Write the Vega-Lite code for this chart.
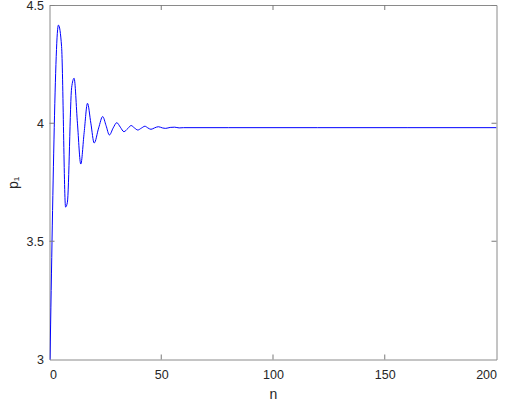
{
  "$schema": "https://vega.github.io/schema/vega-lite/v6.json",
  "width": 447,
  "height": 354.5,
  "autosize": {"type": "none"},
  "padding": {"left": 49.5, "top": 5, "right": 13.5, "bottom": 43.5},
  "background": "white",
  "config": {
    "view": {"stroke": null},
    "font": "Liberation Sans",
    "axis": {
      "domainColor": "#8a8a8a",
      "domainWidth": 1,
      "grid": false,
      "labelFont": "Liberation Sans",
      "labelFontSize": 12.5,
      "labelColor": "#262626",
      "titleFont": "Liberation Sans",
      "titleFontSize": 14,
      "titleFontWeight": "normal",
      "titleColor": "#262626"
    }
  },
  "datasets": {
    "curve": [
      {"n": 0, "p": 2.86},
      {"n": 4, "p": 4.415},
      {"n": 5.4, "p": 4.325},
      {"n": 7.2, "p": 3.645},
      {"n": 8, "p": 3.665},
      {"n": 9.9, "p": 4.15},
      {"n": 11, "p": 4.19},
      {"n": 12.5, "p": 4.0},
      {"n": 14, "p": 3.827},
      {"n": 15.5, "p": 3.96},
      {"n": 17, "p": 4.084},
      {"n": 18.5, "p": 4.0},
      {"n": 20, "p": 3.916},
      {"n": 22, "p": 3.98},
      {"n": 23.8, "p": 4.028},
      {"n": 25.3, "p": 3.99},
      {"n": 26.8, "p": 3.95},
      {"n": 28.5, "p": 3.98},
      {"n": 30.1, "p": 4.002},
      {"n": 31.7, "p": 3.983},
      {"n": 33.3, "p": 3.964},
      {"n": 35, "p": 3.977},
      {"n": 36.5, "p": 3.99},
      {"n": 38, "p": 3.98},
      {"n": 39.5, "p": 3.971},
      {"n": 41.1, "p": 3.979},
      {"n": 42.7, "p": 3.987},
      {"n": 44, "p": 3.98},
      {"n": 45.4, "p": 3.974},
      {"n": 47, "p": 3.98},
      {"n": 48.7, "p": 3.985},
      {"n": 50.5, "p": 3.98},
      {"n": 52, "p": 3.978},
      {"n": 54, "p": 3.982},
      {"n": 56, "p": 3.983},
      {"n": 58, "p": 3.98},
      {"n": 60, "p": 3.981},
      {"n": 80, "p": 3.981},
      {"n": 120, "p": 3.981},
      {"n": 160, "p": 3.981},
      {"n": 200, "p": 3.981}
    ],
    "xticks": [
      {"n": 50, "p": 3}, {"n": 100, "p": 3}, {"n": 150, "p": 3},
      {"n": 50, "p": 4.5}, {"n": 100, "p": 4.5}, {"n": 150, "p": 4.5}
    ],
    "yticks": [
      {"n": 0, "p": 3.5}, {"n": 0, "p": 4}, {"n": 0, "p": 4.5},
      {"n": 200, "p": 3.5}, {"n": 200, "p": 4}, {"n": 200, "p": 4.5}
    ]
  },
  "layer": [
    {
      "data": {"name": "curve"},
      "mark": {"type": "line", "color": "#0000ff", "strokeWidth": 1, "interpolate": "monotone", "clip": true},
      "encoding": {
        "x": {
          "field": "n", "type": "quantitative",
          "scale": {"domain": [0, 200], "nice": false, "zero": false},
          "axis": {"title": "n", "values": [0, 50, 100, 150, 200], "format": "~r", "ticks": false, "labelPadding": 9, "titlePadding": 6}
        },
        "y": {
          "field": "p", "type": "quantitative",
          "scale": {"domain": [3, 4.5], "nice": false, "zero": false},
          "axis": {"title": "p₁", "values": [3, 3.5, 4, 4.5], "format": "~r", "ticks": false, "labelPadding": 6, "titlePadding": 6}
        }
      }
    },
    {
      "data": {"name": "curve"},
      "mark": {"type": "line", "opacity": 0, "clip": true},
      "encoding": {
        "x": {
          "field": "n", "type": "quantitative",
          "scale": {"domain": [0, 200], "nice": false, "zero": false},
          "axis": {"orient": "top", "title": null, "labels": false, "ticks": false, "values": [0, 50, 100, 150, 200]}
        },
        "y": {
          "field": "p", "type": "quantitative",
          "scale": {"domain": [3, 4.5], "nice": false, "zero": false},
          "axis": {"orient": "right", "title": null, "labels": false, "ticks": false, "values": [3, 3.5, 4, 4.5]}
        }
      }
    },
    {
      "data": {"name": "xticks"},
      "mark": {"type": "tick", "orient": "vertical", "size": 10, "thickness": 1, "color": "#7a7a7a", "opacity": 1, "clip": true},
      "encoding": {
        "x": {"field": "n", "type": "quantitative", "scale": {"domain": [0, 200], "nice": false, "zero": false}, "axis": null},
        "y": {"field": "p", "type": "quantitative", "scale": {"domain": [3, 4.5], "nice": false, "zero": false}, "axis": null}
      }
    },
    {
      "data": {"name": "yticks"},
      "mark": {"type": "tick", "orient": "horizontal", "size": 10, "thickness": 1, "color": "#7a7a7a", "opacity": 1, "clip": true},
      "encoding": {
        "x": {"field": "n", "type": "quantitative", "scale": {"domain": [0, 200], "nice": false, "zero": false}, "axis": null},
        "y": {"field": "p", "type": "quantitative", "scale": {"domain": [3, 4.5], "nice": false, "zero": false}, "axis": null}
      }
    }
  ],
  "resolve": {"axis": {"x": "independent", "y": "independent"}}
}
